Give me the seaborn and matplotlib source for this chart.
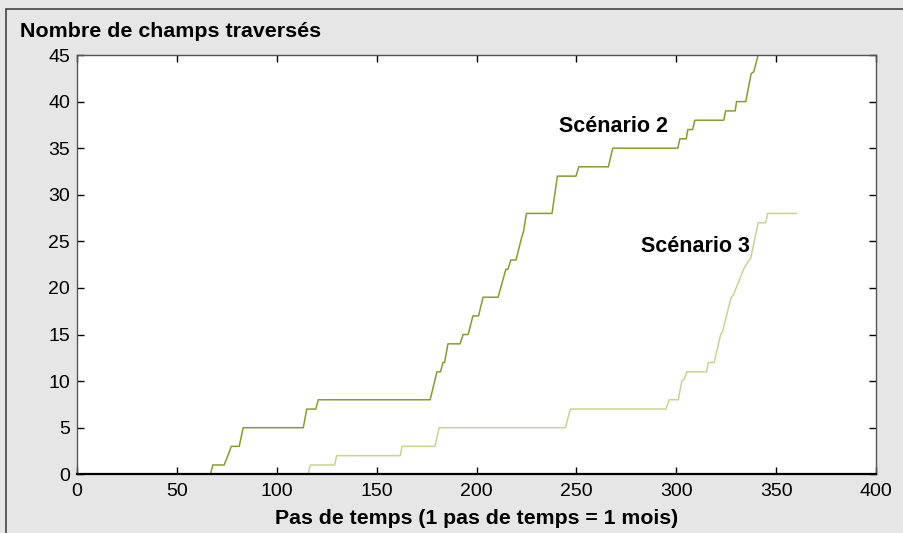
import matplotlib
matplotlib.use("Agg")
import matplotlib.pyplot as plt
import matplotlib.patches as mpatches
import seaborn as sns
import pandas as pd

# ---- data ----
s2_t = [0, 66.8, 68, 73.7, 77.3, 81.2, 83.2, 113.3, 115, 119.5, 120.8, 176.8, 180.2, 182, 183.2,
        184, 185.7, 191.8, 193.3, 195.8, 198.2, 201, 203.3, 210.8, 214.7, 215.7, 217.2, 219.8,
        222.7, 223.5, 225, 237.8, 240.5, 249.8, 251.2, 266, 268.2, 300.8, 301.8, 305, 305.8,
        308.2, 309.3, 323.8, 324.7, 329.5, 330.2, 334.8, 337.5, 338.8, 341, 342.5]
s2_v = [0, 0, 1, 1, 3, 3, 5, 5, 7, 7, 8, 8, 11, 11, 12,
        12, 14, 14, 15, 15, 17, 17, 19, 19, 22, 22, 23, 23,
        25.5, 26, 28, 28, 32, 32, 33, 33, 35, 35, 36, 36, 37,
        37, 38, 38, 39, 39, 40, 40, 43, 43.2, 45, 46.5]

s3_t = [0, 115.7, 116.8, 129, 130, 161.8, 162.8, 179.2, 181.3, 244.5, 247, 294.8, 296.5, 301,
        302.8, 304, 305.3, 315.2, 316, 319, 322.2, 323, 327.5, 328.5, 333.7, 334.5, 336.5,
        337.3, 341, 344.8, 345.8, 360.2]
s3_v = [0, 0, 1, 1, 2, 2, 3, 3, 5, 5, 7, 7, 8, 8,
        10, 10.2, 11, 11, 12, 12, 15, 15.2, 19, 19.2, 22, 22.3, 23,
        23.2, 27, 27, 28, 28]

series_names = ["Scénario 2", "Scénario 3"]
x_ticks = [0, 50, 100, 150, 200, 250, 300, 350, 400]
y_ticks = [0, 5, 10, 15, 20, 25, 30, 35, 40, 45]
title_text = "Nombre de champs traversés"
xlabel_text = "Pas de temps (1 pas de temps = 1 mois)"

df = pd.concat([
    pd.DataFrame({"t": s2_t, "v": s2_v, "s": series_names[0]}),
    pd.DataFrame({"t": s3_t, "v": s3_v, "s": series_names[1]}),
], ignore_index=True)

sns.set_theme(style="white")
plt.rcParams["font.family"] = ["Liberation Sans", "DejaVu Sans"]
plt.rcParams["text.color"] = "black"

BG = "#e6e6e6"
fig = plt.figure(figsize=(9.04, 5.33), dpi=100, facecolor=BG)
ax = fig.add_axes([77 / 904, 1 - 474.3 / 533, (876 - 77) / 904, (474.3 - 55) / 533])
ax.set_facecolor("white")

palette = {series_names[0]: "#8a9b2e", series_names[1]: "#c7d395"}
for name in series_names:
    sub = df[df["s"] == name]
    sns.lineplot(data=sub, x="t", y="v", sort=False, estimator=None,
                 color=palette[name], linewidth=1.1, ax=ax, zorder=1)

ax.set_xlim(0, 400)
ax.set_ylim(0, 45)
ax.set_xticks(x_ticks)
ax.set_yticks(y_ticks)
ax.set_xticklabels([str(v) for v in x_ticks], fontsize=14)
ax.set_yticklabels([str(v) for v in y_ticks], fontsize=14)
ax.tick_params(axis="both", which="both", direction="in", length=5, width=1, color="black",
               top=True, right=True, bottom=True, left=True, labelcolor="black")
ax.tick_params(axis="x", pad=6.5)
ax.tick_params(axis="y", pad=5)
for sp in ax.spines.values():
    sp.set_color("#555555")
    sp.set_linewidth(1.0)
    sp.set_zorder(3)
ax.spines["bottom"].set_color("black")
ax.spines["bottom"].set_linewidth(1.6)
ax.set_xlabel(xlabel_text, fontsize=15.3, fontweight="bold", labelpad=6.5, color="black")
ax.set_ylabel("")

fig.text(20 / 904, 1 - 36.7 / 533, title_text, fontsize=15.4, fontweight="bold",
         ha="left", va="baseline", color="black")

ax.text(241.3, 36.77, series_names[0], fontsize=15.5, fontweight="bold",
        ha="left", va="baseline", color="black")
ax.text(282.2, 23.83, series_names[1], fontsize=15.5, fontweight="bold",
        ha="left", va="baseline", color="black")

# outer frame
fig.patches.append(mpatches.Rectangle((6.5 / 904, -0.1), 1.2, 1 - 8.5 / 533 + 0.1,
                                      transform=fig.transFigure, fill=False,
                                      edgecolor="#444444", linewidth=1.2))

fig.savefig("out.png", dpi=100, facecolor=BG)
